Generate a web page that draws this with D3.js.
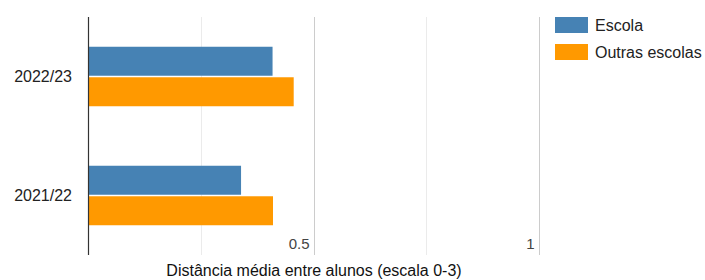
<!DOCTYPE html>
<html>
<head>
<meta charset="utf-8">
<script src="https://cdn.jsdelivr.net/npm/d3@7"></script>
<style>
  body { margin: 0; background: #fff; }
  svg { font-family: "Liberation Sans", Arial, sans-serif; }
</style>
</head>
<body>
<svg id="chart" width="705" height="280"></svg>
<script>
// chart data
const years = ["2022/23", "2021/22"];
const seriesNames = ["Escola", "Outras escolas"];
const escola = [0.409, 0.339];
const outras = [0.456, 0.410];
const xTicks = [0.25, 0.5, 0.75, 1];
const xTickLabels = ["", "0.5", "", "1"];
const axisTitle = "Distância média entre alunos (escala 0-3)";

const colors = ["#4682b4", "#ff9900"];

const svg = d3.select("#chart");
const plotLeft = 88.5, plotRight = 538.5, plotTop = 17, plotBottom = 255;

const x = d3.scaleLinear().domain([0, 1]).range([plotLeft, plotRight]);
const y = d3.scaleBand().domain(years).range([plotTop, plotBottom])
    .paddingInner(0.5).paddingOuter(0.25);
const ySub = d3.scaleBand().domain(seriesNames).range([0, y.bandwidth()]).paddingInner(0.05);

// gridlines
svg.selectAll(".grid").data(xTicks).enter().append("line")
    .attr("x1", d => Math.round(x(d)) + 0.5).attr("x2", d => Math.round(x(d)) + 0.5)
    .attr("y1", plotTop).attr("y2", plotBottom)
    .attr("stroke", (d, i) => xTickLabels[i] ? "#cccccc" : "#ebebeb")
    .attr("stroke-width", 1);

// bars
const rows = years.map((yr, i) => ({ year: yr, values: [escola[i], outras[i]] }));
const g = svg.selectAll(".grp").data(rows).enter().append("g")
    .attr("transform", d => `translate(0,${y(d.year)})`);
g.selectAll("rect").data(d => d.values.map((v, k) => ({ name: seriesNames[k], v, k })))
  .enter().append("rect")
    .attr("x", x(0))
    .attr("y", d => ySub(d.name))
    .attr("width", d => x(d.v) - x(0))
    .attr("height", ySub.bandwidth())
    .attr("fill", d => colors[d.k]);

// tick labels inside plot
svg.selectAll(".tl").data(xTicks).enter().append("text")
    .attr("x", d => x(d) - 4).attr("y", 249)
    .attr("text-anchor", "end")
    .attr("font-size", 15).attr("fill", "#444")
    .text((d, i) => xTickLabels[i]);

// y axis line
svg.append("line").attr("x1", plotLeft).attr("x2", plotLeft).attr("y1", plotTop).attr("y2", plotBottom)
    .attr("stroke", "#333").attr("stroke-width", 1.2);

// y labels
svg.selectAll(".yl").data(years).enter().append("text")
    .attr("x", 72).attr("y", d => y(d) + y.bandwidth() / 2)
    .attr("dy", "0.35em").attr("text-anchor", "end")
    .attr("font-size", 16).attr("fill", "#222")
    .text(d => d);

// axis title
svg.append("text").attr("x", 314).attr("y", 276)
    .attr("text-anchor", "middle").attr("font-size", 16).attr("fill", "#111")
    .text(axisTitle);

// legend
const leg = svg.selectAll(".leg").data(seriesNames).enter().append("g")
    .attr("transform", (d, i) => `translate(555,${17 + i * 27})`);
leg.append("rect").attr("width", 33).attr("height", 16).attr("fill", (d, i) => colors[i]);
leg.append("text").attr("x", 40).attr("y", 8).attr("dy", "0.35em")
    .attr("font-size", 16).attr("fill", "#222").text(d => d);
</script>
</body>
</html>
